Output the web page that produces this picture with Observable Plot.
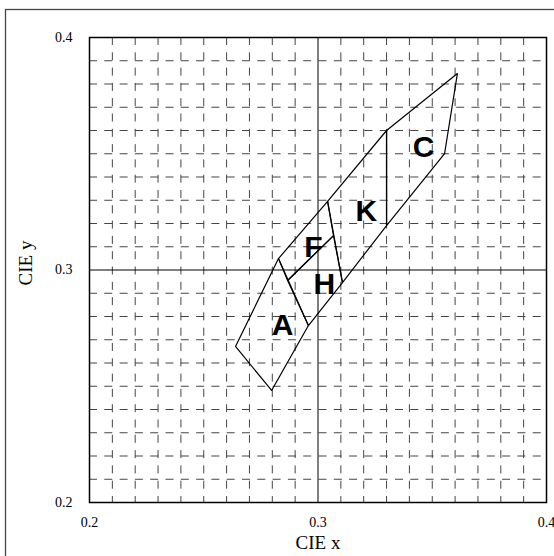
<!DOCTYPE html>
<html>
<head>
<meta charset="utf-8">
<script src="https://cdn.jsdelivr.net/npm/d3@7"></script>
<script src="https://cdn.jsdelivr.net/npm/@observablehq/plot@0.6"></script>
<style>
  html, body { margin: 0; padding: 0; background: #fff; }
</style>
</head>
<body>
<div id="chart"></div>
<script>
// Axis tick labels and grid positions (CIE chromaticity units)
const tickValues = [0.2, 0.3, 0.4];
const gridValues = [0.21, 0.22, 0.23, 0.24, 0.25, 0.26, 0.27, 0.28, 0.29,
                    0.31, 0.32, 0.33, 0.34, 0.35, 0.36, 0.37, 0.38, 0.39];
const centerLines = [0.3];

// Quadrangle names and their corner chromaticities [x, y]
const quadNames = ["A", "F", "H", "K", "C"];
const quadA = [[0.2797, 0.2482], [0.2639, 0.2671], [0.2827, 0.3049], [0.2958, 0.2761]];
const quadF = [[0.2827, 0.3049], [0.3042, 0.3295], [0.3068, 0.3148], [0.2867, 0.2955]];
const quadH = [[0.2867, 0.2955], [0.3068, 0.3148], [0.3107, 0.2946], [0.2958, 0.2761]];
const quadK = [[0.3042, 0.3295], [0.3300, 0.3600], [0.3300, 0.3191], [0.3107, 0.2946]];
const quadC = [[0.3300, 0.3600], [0.3610, 0.3845], [0.3554, 0.3501], [0.3300, 0.3191]];

// Label positions
const labelX = [0.2845, 0.2980, 0.3028, 0.3212, 0.3462];
const labelY = [0.2761, 0.3097, 0.2938, 0.3252, 0.3527];

const quads = [quadA, quadF, quadH, quadK, quadC];
const quadRows = quads.flatMap((q, i) => q.map(([x, y]) => ({name: quadNames[i], x, y})));
const labelRows = quadNames.map((name, i) => ({name, x: labelX[i], y: labelY[i]}));

const serif = "'Liberation Serif', 'Times New Roman', Times, serif";
const sans = "'Liberation Sans', Arial, Helvetica, sans-serif";

const chart = Plot.plot({
  width: 554,
  height: 556,
  marginLeft: 89,
  marginRight: 8,
  marginTop: 37,
  marginBottom: 54,
  style: {fontFamily: serif, fontSize: "14px", background: "#fff", color: "#000", overflow: "hidden"},
  x: {domain: [0.2, 0.4]},
  y: {domain: [0.2, 0.4]},
  marks: [
    Plot.gridX(gridValues, {stroke: "#444", strokeOpacity: 1, strokeWidth: 1, strokeDasharray: "8,7.3"}),
    Plot.gridY(gridValues, {stroke: "#444", strokeOpacity: 1, strokeWidth: 1, strokeDasharray: "8,7.3"}),
    Plot.ruleX(centerLines, {stroke: "#000", strokeWidth: 1}),
    Plot.ruleY(centerLines, {stroke: "#000", strokeWidth: 1}),
    Plot.frame({stroke: "#000", strokeWidth: 1.5}),
    Plot.line(quadRows, {x: "x", y: "y", z: "name", curve: "linear-closed", stroke: "#000", strokeWidth: 1.2}),
    Plot.text(labelRows, {x: "x", y: "y", text: "name", fontFamily: sans, fontWeight: "bold", fontSize: 30, fill: "#000"}),
    Plot.axisX(tickValues, {tickSize: 0, tickPadding: 15, tickFormat: d3.format(".1f"), label: null, fontSize: 14, fontFamily: serif}),
    Plot.axisY(tickValues, {tickSize: 0, tickPadding: 17, tickFormat: d3.format(".1f"), label: null, fontSize: 14, fontFamily: serif}),
    Plot.text(["CIE x"], {text: d => d, frameAnchor: "bottom", lineAnchor: "middle", textAnchor: "middle", dy: 40, fontSize: 19, fontFamily: serif, fill: "#000"}),
    Plot.text(["CIE y"], {text: d => d, frameAnchor: "left", lineAnchor: "middle", textAnchor: "middle", dx: -64, dy: -7, rotate: -90, fontSize: 19, fontFamily: serif, fill: "#000"})
  ]
});

// outer border of the figure (only its left and top edges fall inside the picture)
d3.select(chart).insert("rect", ":first-child")
  .attr("x", 5.5).attr("y", 9.5)
  .attr("width", 700).attr("height", 700)
  .attr("fill", "none").attr("stroke", "#444").attr("stroke-width", 1.3);

document.getElementById("chart").appendChild(chart);
</script>
</body>
</html>
